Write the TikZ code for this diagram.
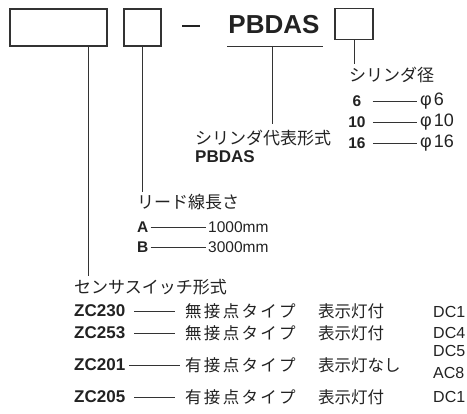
\documentclass[tikz,border=0pt]{standalone}
\usepackage{fontspec}
\setmainfont{Liberation Sans}
\newfontfamily\jp{Noto Sans CJK JP}
\newfontfamily\jpw[LetterSpace=14]{Noto Sans CJK JP}
\definecolor{tx}{HTML}{222222}
\definecolor{ln}{HTML}{333333}
\begin{document}
\begin{tikzpicture}[x=1pt,y=-1pt,
  box/.style={draw=ln, line width=1.1pt, inner sep=0},
  t/.style={inner sep=0, anchor=west, text=tx, font=\fontsize{15.5}{15.5}\selectfont},
  phi/.style={t, font=\fontsize{18}{18}\selectfont},
  jh/.style={t, font=\jp\fontsize{17}{17}\selectfont},
  jr/.style={t, font=\jpw\fontsize{16.5}{16.5}\selectfont},
  js/.style={t, font=\jp\fontsize{16.5}{16.5}\selectfont},
  bd/.style={t, font=\bfseries\fontsize{15.5}{15.5}\selectfont},
  zc/.style={t, font=\bfseries\fontsize{17}{17}\selectfont},
  lead/.style={draw=ln, line width=0.9pt}]
\useasboundingbox (0,0) rectangle (467,414);

% top row
\node[box, minimum width=97pt, minimum height=37pt] (b1) at (58.5,27.5) {};
\node[box, minimum width=37pt, minimum height=37pt] (b2) at (142.5,27.5) {};
\node[inner sep=0, text=tx] (dash) at (191,26) {\rule{18pt}{2pt}};
\node[inner sep=0, text=tx, font=\bfseries\fontsize{26}{26}\selectfont] (pb) at (274,25) {PBDAS};
\node[box, minimum width=38pt, minimum height=31pt] (b3) at (354,24) {};
\coordinate (ul1) at (227,46);
\coordinate (ul2) at (323,46);
\draw[lead] (ul1) -- (ul2);

% cylinder diameter
\node[jh] (cyl) at (349,75) {シリンダ径};
\coordinate (c3) at (354,64);
\draw[lead] (b3.south -| c3) -- (c3);
\node[bd, anchor=center] (n6) at (357,101) {6};
\node[bd, anchor=center] (n10) at (357,122) {10};
\node[bd, anchor=center] (n16) at (357,143) {16};
\node[phi] (p6) at (420,101) {φ\hspace{2pt}6};
\node[phi] (p10) at (420,122) {φ\hspace{2pt}10};
\node[phi] (p16) at (420,143) {φ\hspace{2pt}16};
\draw[lead] ([xshift=11pt]n6.east) -- ([xshift=-3pt]p6.west);
\draw[lead] ([xshift=7pt]n10.east) -- ([xshift=-3pt]p10.west);
\draw[lead] ([xshift=7pt]n16.east) -- ([xshift=-3pt]p16.west);

% representative model
\coordinate (pbt) at (272,46);
\coordinate (c2) at (272,124);
\draw[lead] (pbt) -- (c2);
\node[jh] (rep) at (195,138) {シリンダ代表形式};
\node[bd, font=\bfseries\fontsize{17}{17}\selectfont] (rep2) at (195,157) {PBDAS};

% lead wire length
\coordinate (cb2) at (142,192);
\draw[lead] (b2.south -| cb2) -- (cb2);
\node[jh] (lw) at (137,202) {リード線長さ};
\node[bd] (la) at (137,227) {A};
\node[bd] (lb) at (137,247) {B};
\node[t] (la2) at (208,227) {1000mm};
\node[t] (lb2) at (208,247) {3000mm};
\draw[lead] ([xshift=2pt]la.east) -- ([xshift=-2pt]la2.west);
\draw[lead] ([xshift=2pt]lb.east) -- ([xshift=-2pt]lb2.west);

% sensor switch model
\coordinate (cb1) at (88,276);
\draw[lead] (b1.south -| cb1) -- (cb1);
\node[jh] (ss) at (74,287) {センサスイッチ形式};

\node[zc] (z1) at (74,311) {ZC230};
\node[zc] (z2) at (74,333) {ZC253};
\node[zc] (z3) at (74,365) {ZC201};
\node[zc] (z4) at (74,397) {ZC205};

\node[jr] (k1) at (185,311) {無接点タイプ};
\node[jr] (k2) at (185,333) {無接点タイプ};
\node[jr] (k3) at (185,365) {有接点タイプ};
\node[jr] (k4) at (185,397) {有接点タイプ};

\draw[lead] ([xshift=9pt]z1.east) -- ([xshift=-10pt]k1.west);
\draw[lead] ([xshift=9pt]z2.east) -- ([xshift=-10pt]k2.west);
\draw[lead] ([xshift=4pt]z3.east) -- ([xshift=-5pt]k3.west);
\draw[lead] ([xshift=9pt]z4.east) -- ([xshift=-10pt]k4.west);

\node[js] (i1) at (318,311) {表示灯付};
\node[js] (i2) at (318,333) {表示灯付};
\node[js] (i3) at (318,365) {表示灯なし};
\node[js] (i4) at (318,397) {表示灯付};

\node[t, font=\fontsize{16}{16}\selectfont] (d1) at (433,312) {DC1};
\node[t, font=\fontsize{16}{16}\selectfont] (d2) at (433,333) {DC4};
\node[t, font=\fontsize{16}{16}\selectfont] (d3) at (433,351) {DC5};
\node[t, font=\fontsize{16}{16}\selectfont] (d4) at (433,373) {AC8};
\node[t, font=\fontsize{16}{16}\selectfont] (d5) at (433,397) {DC1};
\end{tikzpicture}
\end{document}
